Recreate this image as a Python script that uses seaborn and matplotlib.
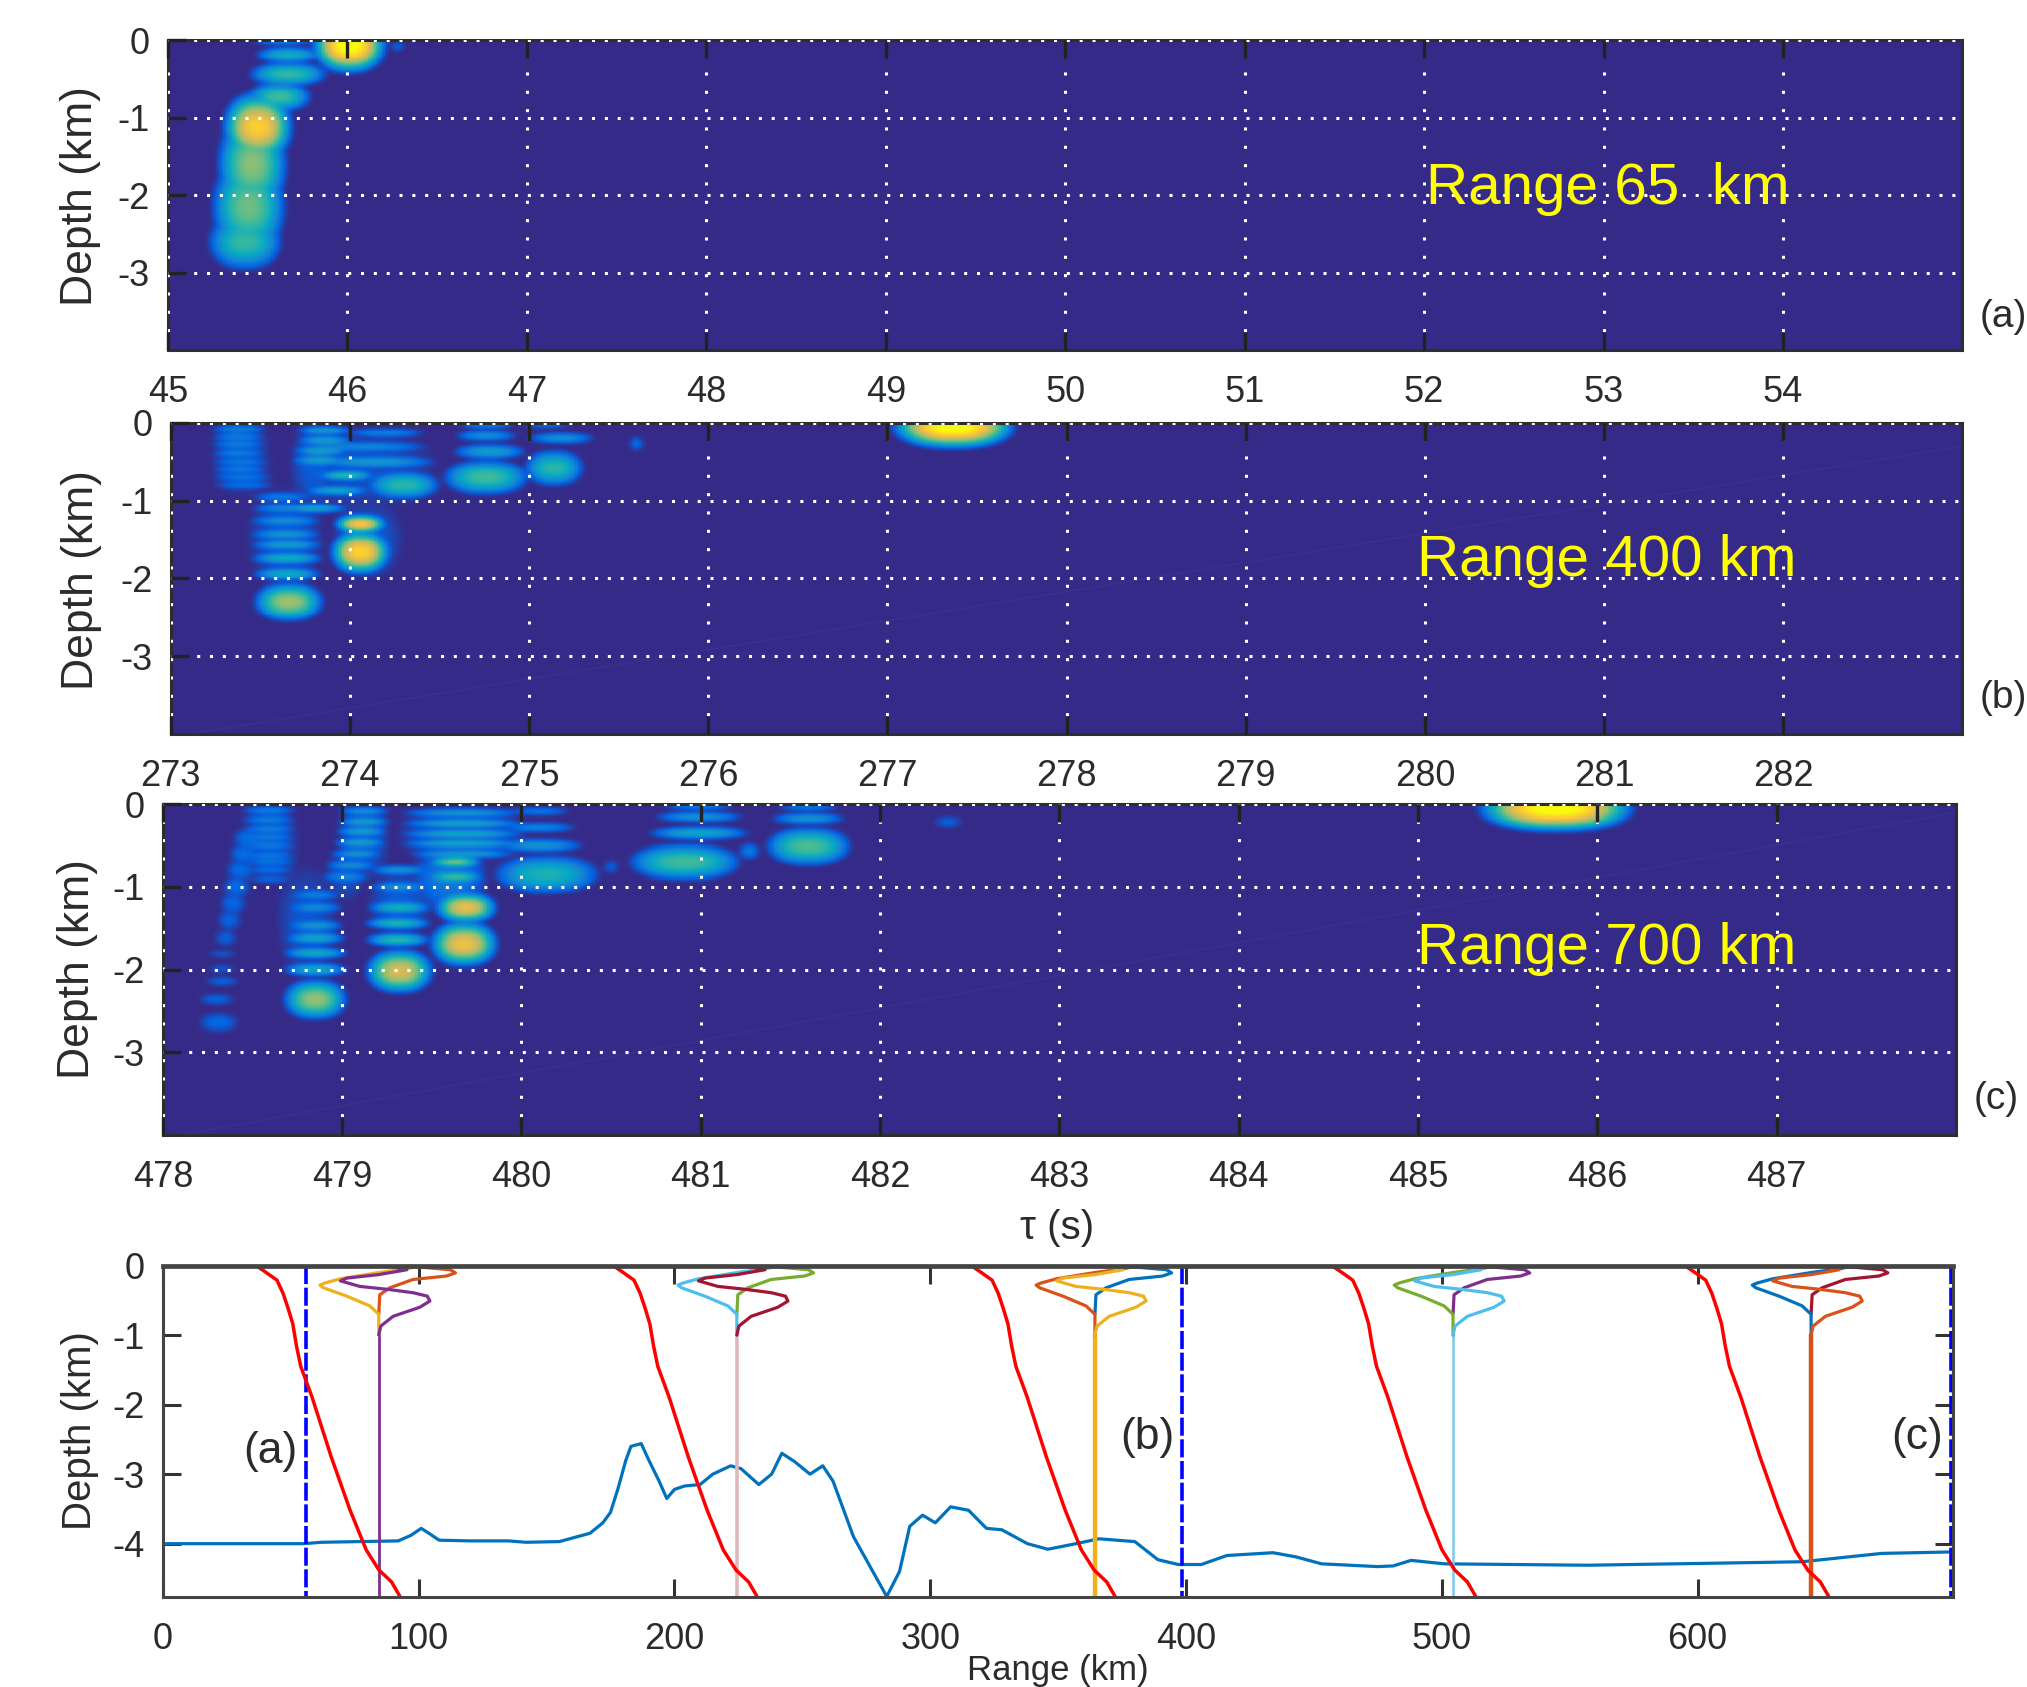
import numpy as np
import pandas as pd
import matplotlib
matplotlib.use("Agg")
import matplotlib.pyplot as plt
from matplotlib.colors import LinearSegmentedColormap
import seaborn as sns

# ---------- data ----------
# each energy patch: (tau s, depth km, half width s, half height km, level)
PATCHES_A = [
    (45.64, 0.0, .16, .05, .30), (45.67, -.19, .16, .09, .42), (45.67, -.44, .19, .13, .5),
    (45.62, -.73, .155, .16, .52), (45.5, -.98, .16, .2, .3), (45.43, -2.60, .18, .31, .5),
    (45.45, -2.15, .18, .55, .58), (45.47, -1.6, .17, .55, .62), (45.5, -1.12, .17, .38, .88),
    (46.01, -.07, .18, .3, 1.04), (46.28, -.08, .03, .06, .17),
]
PATCHES_B = [
    # first falling column
    (273.4, -.45, .15, .43, .08),
    (273.38, -.08, .14, .05, .26), (273.38, -.185, .14, .045, .26), (273.38, -.28, .14, .045, .26),
    (273.38, -.39, .14, .045, .26), (273.39, -.5, .145, .045, .24), (273.39, -.6, .145, .045, .24),
    (273.4, -.7, .155, .045, .22), (273.41, -.8, .155, .045, .2),
    # second falling column
    (273.64, -1.47, .19, .55, .1),
    (273.62, -.95, .15, .05, .24), (273.64, -1.1, .17, .055, .28), (273.64, -1.26, .18, .06, .3),
    (273.64, -1.43, .18, .06, .34), (273.65, -1.57, .18, .06, .38), (273.65, -1.74, .18, .065, .44),
    (273.65, -1.94, .17, .075, .42), (273.66, -2.3, .17, .21, .66),
    # rising column and long stripes
    (273.8, -.55, .12, .5, .12), (274.09, -.6, .35, .45, .09),
    (273.86, -.1, .14, .05, .38), (273.86, -.23, .14, .055, .38), (273.84, -.36, .14, .055, .4),
    (273.83, -.48, .14, .055, .4),
    (274.2, -.13, .2, .05, .26), (274.09, -.31, .32, .055, .28), (274.14, -.5, .31, .07, .34),
    (274.3, -.8, .18, .15, .48), (273.98, -.68, .14, .05, .56), (273.93, -.87, .16, .045, .46),
    (273.8, -1.1, .17, .05, .42),
    # strong patches
    (274.1, -1.5, .18, .44, .11), (274.06, -1.3, .125, .1, .88), (274.06, -1.66, .145, .24, .9),
    (274.76, -.03, .14, .045, .22), (274.76, -.17, .155, .06, .3), (274.78, -.37, .18, .08, .36),
    (274.76, -.7, .21, .19, .52),
    (275.1, -.03, .12, .035, .18), (275.18, -.2, .165, .06, .32), (275.14, -.58, .145, .2, .48),
    (275.6, -.27, .035, .08, .18),
    (277.37, -.06, .3, .23, 1.04),
]
PATCHES_C = [
    (478.31, -2.64, .1, .105, .16), (478.3, -2.36, .09, .055, .15), (478.33, -2.14, .085, .05, .15),
    (478.33, -1.99, .065, .035, .14), (478.33, -1.81, .07, .035, .14), (478.35, -1.62, .055, .09, .13),
    (478.37, -1.4, .06, .12, .14), (478.39, -1.2, .065, .12, .15), (478.41, -1.0, .07, .12, .16),
    (478.43, -.8, .07, .12, .16), (478.45, -.6, .07, .12, .17), (478.47, -.42, .07, .12, .17),
    # first falling column
    (478.6, -.48, .15, .42, .09),
    (478.59, -.08, .14, .04, .28), (478.59, -.19, .14, .04, .28), (478.59, -.3, .14, .04, .28),
    (478.59, -.4, .14, .04, .26), (478.59, -.5, .14, .04, .26), (478.59, -.62, .14, .04, .24),
    (478.6, -.7, .14, .035, .24), (478.6, -.8, .13, .035, .22), (478.6, -.91, .12, .035, .18),
    # second falling column
    (478.8, -1.4, .15, .56, .1),
    (478.85, -1.1, .13, .05, .26), (478.85, -1.25, .14, .05, .3), (478.85, -1.47, .14, .06, .34),
    (478.85, -1.62, .15, .06, .4), (478.85, -1.8, .16, .06, .44), (478.85, -2.0, .16, .065, .42),
    (478.85, -2.36, .155, .21, .64),
    # rising column
    (479.12, -.45, .13, .42, .11), (479.02, -.85, .1, .28, .1),
    (479.12, -.09, .13, .04, .36), (479.12, -.21, .13, .05, .4), (479.11, -.33, .13, .05, .4),
    (479.1, -.47, .13, .05, .4), (479.08, -.6, .13, .05, .34), (479.05, -.74, .13, .05, .32),
    (479.02, -.88, .12, .05, .28),
    # third falling column
    (479.32, -1.2, .16, .36, .12),
    (479.32, -.8, .15, .05, .34), (479.32, -1.0, .15, .05, .34), (479.32, -1.25, .16, .06, .46),
    (479.31, -1.44, .165, .06, .5), (479.31, -1.64, .16, .065, .52), (479.32, -2.02, .165, .23, .76),
    # upper wide stripes and strong patches
    (479.6, -.9, .19, .36, .22), (479.67, -.35, .31, .32, .12),
    (479.67, -.11, .31, .035, .42), (479.67, -.23, .31, .04, .46), (479.67, -.36, .31, .045, .46),
    (479.67, -.48, .31, .045, .46), (479.67, -.6, .27, .04, .42),
    (479.63, -.7, .13, .055, .68), (479.63, -.88, .14, .05, .6),
    (479.69, -1.25, .15, .16, .8), (479.68, -1.69, .165, .235, .82),
    (480.1, -.09, .15, .04, .24), (480.1, -.28, .185, .05, .28), (480.1, -.5, .22, .07, .32),
    (480.14, -.85, .26, .2, .44), (480.5, -.76, .035, .08, .14),
    (480.99, -.03, .175, .035, .26), (480.99, -.155, .22, .05, .34), (480.99, -.35, .25, .07, .4),
    (480.91, -.7, .275, .19, .52), (481.27, -.57, .05, .09, .22),
    (481.6, -.04, .155, .035, .26), (481.6, -.175, .185, .055, .34), (481.6, -.51, .21, .2, .54),
    (482.38, -.215, .07, .06, .14),
    (485.77, -.06, .38, .23, 1.04),
]
TAU_START = [45, 273, 478]
TAU_TICKS = [list(range(45, 55)), list(range(273, 283)), list(range(478, 488))]
DEPTH_TICKS = [0, -1, -2, -3]
FAINT_LINE = [None, ((273.1, -4.0), (283.0, -.3)), ((478.1, -4.0), (488.0, -.1))]

BATHY_RANGE = [0, 55, 62, 92, 97, 101, 104, 108, 120, 135, 142, 155, 162, 167, 172, 175, 178, 181, 183, 187,
               190, 194, 197, 200, 204, 210, 215, 222, 226, 233, 238, 242, 247, 253, 258, 262, 270, 283, 288,
               292, 297, 302, 308, 315, 322, 328, 338, 346, 357, 366, 380, 389, 397, 406, 416, 434, 443, 453,
               475, 481, 488, 501, 557, 608, 641, 659, 672, 698, 700]
BATHY_DEPTH = [-4, -4, -3.98, -3.96, -3.88, -3.78, -3.85, -3.95, -3.96, -3.96, -3.98, -3.97, -3.9, -3.85, -3.7,
               -3.55, -3.2, -2.8, -2.6, -2.56, -2.8, -3.1, -3.35, -3.22, -3.17, -3.15, -3.0, -2.88, -2.92, -3.15,
               -3.0, -2.7, -2.82, -3.0, -2.88, -3.1, -3.9, -4.76, -4.4, -3.75, -3.59, -3.7, -3.47, -3.52, -3.78,
               -3.8, -4.0, -4.08, -4.0, -3.93, -3.97, -4.23, -4.3, -4.3, -4.17, -4.13, -4.19, -4.29, -4.33, -4.32,
               -4.24, -4.29, -4.31, -4.28, -4.26, -4.19, -4.14, -4.12, -4.12]

SPEED_X = [0, 3.2, 8.2, 10.6, 12.6, 14.4, 15.8, 17.5, 21.9, 29.4, 36.8, 43.1, 48.1, 53, 56.3]
SPEED_Z = [0, -.08, -.21, -.4, -.62, -.84, -1.15, -1.45, -1.89, -2.75, -3.52, -4.09, -4.38, -4.55, -4.76]
SPEED_ORIGIN = [36.4, 176, 316, 457, 595]

MODE_LEFT_X = [0, 0, -3.5, -12.5, -21.6, -23, -21, -15, 0, 12, 15]
MODE_LEFT_Z = [-1.0, -.7, -.58, -.44, -.32, -.28, -.25, -.19, -.1, -.04, -.015]
MODE_RIGHT_X = [0, .8, 5.6, 16, 20, 19, 13.4, 3, -7.4, -15, -12.5, 0, 11, 5.6, 0]
MODE_RIGHT_Z = [-1.0, -.87, -.73, -.6, -.51, -.44, -.39, -.34, -.3, -.22, -.18, -.13, -.06, -.02, 0]
MODE_TIP_X = [0, .4, 4.3, 13.4, 26.5, 30, 28, 18.6, 13]
MODE_TIP_Z = [-.7, -.42, -.32, -.2, -.15, -.105, -.06, -.03, -.015]
STATIONS = [84.4, 224.4, 364.4, 504.4, 644.4]
COL_LEFT = ["#EDB120", "#4DBEEE", "#D95319", "#77AC30", "#0072BD"]
COL_RIGHT = ["#7E2F8E", "#A2142F", "#EDB120", "#4DBEEE", "#D95319"]
COL_TIP = ["#D95319", "#77AC30", "#0072BD", "#7E2F8E", "#A2142F"]
COL_STEM = ["#7E2F8E", "#DDB7BE", "#EDB120", "#7CCBEE", "#D95319"]
STEM_LW = [2.0, 2.6, 3.2, 1.8, 3.2]
STEM_Z = [-1.0, -4.76]
MARKER_RANGE = [56, 398.5, 699]
RANGE_TICKS = [0, 100, 200, 300, 400, 500, 600]

PANEL_NOTE = ["Range 65  km", "Range 400 km", "Range 700 km"]
PANEL_TAG = ["(a)", "(b)", "(c)"]

# ---------- style ----------
sns.set_theme(style="white")
plt.rcParams["font.family"] = ["Liberation Sans", "DejaVu Sans"]
TEXT = "#2b2b2b"
parula = LinearSegmentedColormap.from_list(
    "parula", ["#352a87", "#0363e1", "#1485d4", "#06a7c6", "#38b99e", "#92bf73", "#d9ba56", "#fcce2e", "#f9fb0e"])

W, H = 1568.0, 1305.0
fig = plt.figure(figsize=(20.27, 16.87), dpi=100, facecolor="white")


def rect(l, t, r, b):
    return [l / W, 1 - b / H, (r - l) / W, (b - t) / H]


def put(x, y, s, **kw):
    fig.text(x / W, 1 - y / H, s, ha=kw.pop("ha", "center"), va="center", color=kw.pop("color", TEXT), **kw)


NT, NZ = 1200, 320
SPREAD_T, SPREAD_Z = 1.2, 1.28


def field(patches, t0):
    tau = t0 + (np.arange(NT) + .5) * 10 / NT
    dep = -(np.arange(NZ) + .5) * 4 / NZ
    tt, zz = np.meshgrid(tau, dep)
    out = np.zeros_like(tt)
    for tc, zc, hx, hz, lev in patches:
        r2 = np.abs((tt - tc) / (hx * SPREAD_T)) ** 2.4 + ((zz - zc) / (hz * SPREAD_Z)) ** 2
        out = np.maximum(out, lev * np.clip(1 - r2, 0, 1) ** 1.25)
    kern = np.array([1, 2, 3, 4, 5, 4, 3, 2, 1], float)
    kern /= kern.sum()
    out = np.apply_along_axis(lambda v: np.convolve(np.pad(v, 4, mode="edge"), kern, "valid"), 1, out)
    out = np.apply_along_axis(lambda v: np.convolve(np.pad(v, 4, mode="edge"), kern, "valid"), 0, out)
    return pd.DataFrame(out, index=dep, columns=tau)


RECTS = [(130, 31, 1518, 271), (132, 327, 1518, 568), (126, 622, 1513, 878)]
for i, patches in enumerate([PATCHES_A, PATCHES_B, PATCHES_C]):
    ax = fig.add_axes(rect(*RECTS[i]))
    t0 = TAU_START[i]
    sns.heatmap(field(patches, t0), ax=ax, cmap=parula, vmin=0, vmax=1, cbar=False,
                xticklabels=False, yticklabels=False, rasterized=True)
    if FAINT_LINE[i]:
        (a, b), (c, d) = FAINT_LINE[i]
        ax.plot([(a - t0) * NT / 10, (c - t0) * NT / 10], [-b * NZ / 4, -d * NZ / 4], color="#3a308e", lw=1.2)
    xt = [(t - t0) * NT / 10 for t in TAU_TICKS[i]]
    yt = [-d * NZ / 4 for d in DEPTH_TICKS]
    ax.set_xticks(xt, [str(t) for t in TAU_TICKS[i]])
    ax.set_yticks(yt, [str(d) for d in DEPTH_TICKS], rotation=0)
    ax.set_xlabel("")
    ax.set_ylabel("")
    ax.tick_params(axis="x", which="major", direction="in", length=13, width=2.4, color="#222222", top=True, bottom=True,
                   labelsize=26, pad=18, labelcolor=TEXT, labelrotation=0)
    ax.tick_params(axis="y", which="major", direction="in", length=13, width=2.4, color="#222222", left=True, right=False,
                   labelsize=26, pad=13, labelcolor=TEXT)
    ax.set_axisbelow(False)
    ax.xaxis.grid(True, color="white", lw=2.2, ls=(0, (1, 5)))
    ax.yaxis.grid(True, color="white", lw=2.2, ls=(0, (1, 3.2)))
    for s in ax.spines.values():
        s.set_visible(True)
        s.set_color("#2e2e2e")
        s.set_linewidth(2.2)
    put([1244, 1243, 1243][i], [146, 434, 734][i], PANEL_NOTE[i], color="#FFFF00", fontsize=42)
    put([1531, 1531, 1527][i], [245, 540, 850][i], PANEL_TAG[i], fontsize=28, ha="left")
    put([62, 63, 60][i], [152, 449, 750][i], "Depth (km)", fontsize=32, rotation=90)

# range section
ax = fig.add_axes(rect(126, 979, 1511, 1235))
LW = 2.3
sns.lineplot(x=BATHY_RANGE, y=BATHY_DEPTH, sort=False, estimator=None, color="#0072BD", lw=LW, ax=ax)
for x0 in MARKER_RANGE:
    sns.lineplot(x=[x0, x0], y=[0, -4.76], sort=False, estimator=None, color="#0000FF", lw=2.6,
                 ls=(0, (5, 1)), ax=ax)
for k, st in enumerate(STATIONS):
    sns.lineplot(x=[st, st], y=STEM_Z, sort=False, estimator=None, color=COL_STEM[k], lw=STEM_LW[k], ax=ax)
    sns.lineplot(x=np.add(MODE_TIP_X, st), y=MODE_TIP_Z, sort=False, estimator=None, color=COL_TIP[k], lw=LW, ax=ax)
    sns.lineplot(x=np.add(MODE_LEFT_X, st), y=MODE_LEFT_Z, sort=False, estimator=None, color=COL_LEFT[k], lw=LW, ax=ax)
    sns.lineplot(x=np.add(MODE_RIGHT_X, st), y=MODE_RIGHT_Z, sort=False, estimator=None, color=COL_RIGHT[k], lw=LW, ax=ax)
for org in SPEED_ORIGIN:
    sns.lineplot(x=np.add(SPEED_X, org), y=SPEED_Z, sort=False, estimator=None, color="#FF0000", lw=2.5, ax=ax)
ax.set_xlim(0, 700)
ax.set_ylim(-4.76, 0)
ax.set_xticks(RANGE_TICKS, [str(t) for t in RANGE_TICKS])
ax.set_yticks([0, -1, -2, -3, -4], ["0", "-1", "-2", "-3", "-4"])
ax.set_xlabel("")
ax.set_ylabel("")
ax.tick_params(axis="x", direction="in", length=13, width=2.2, color="#333333", top=True, bottom=True,
               labelsize=26, pad=18, labelcolor=TEXT)
ax.tick_params(axis="y", direction="in", length=13, width=2.2, color="#333333", left=True, right=True,
               labelsize=26, pad=13, labelcolor=TEXT)
for name, s in ax.spines.items():
    s.set_visible(True)
    s.set_color("#444444")
    s.set_linewidth(3.4 if name == "top" else 2.2)
ax.text(42, -2.67, "(a)", fontsize=32, color=TEXT, ha="center", va="center")
ax.text(385, -2.48, "(b)", fontsize=32, color=TEXT, ha="center", va="center")
ax.text(686, -2.48, "(c)", fontsize=32, color=TEXT, ha="center", va="center")

put(62, 1107, "Depth (km)", fontsize=29, rotation=90)
put(818, 950, "τ (s)", fontsize=29)
put(818, 1292, "Range (km)", fontsize=25)

fig.savefig("out.png", dpi=100, facecolor="white")
